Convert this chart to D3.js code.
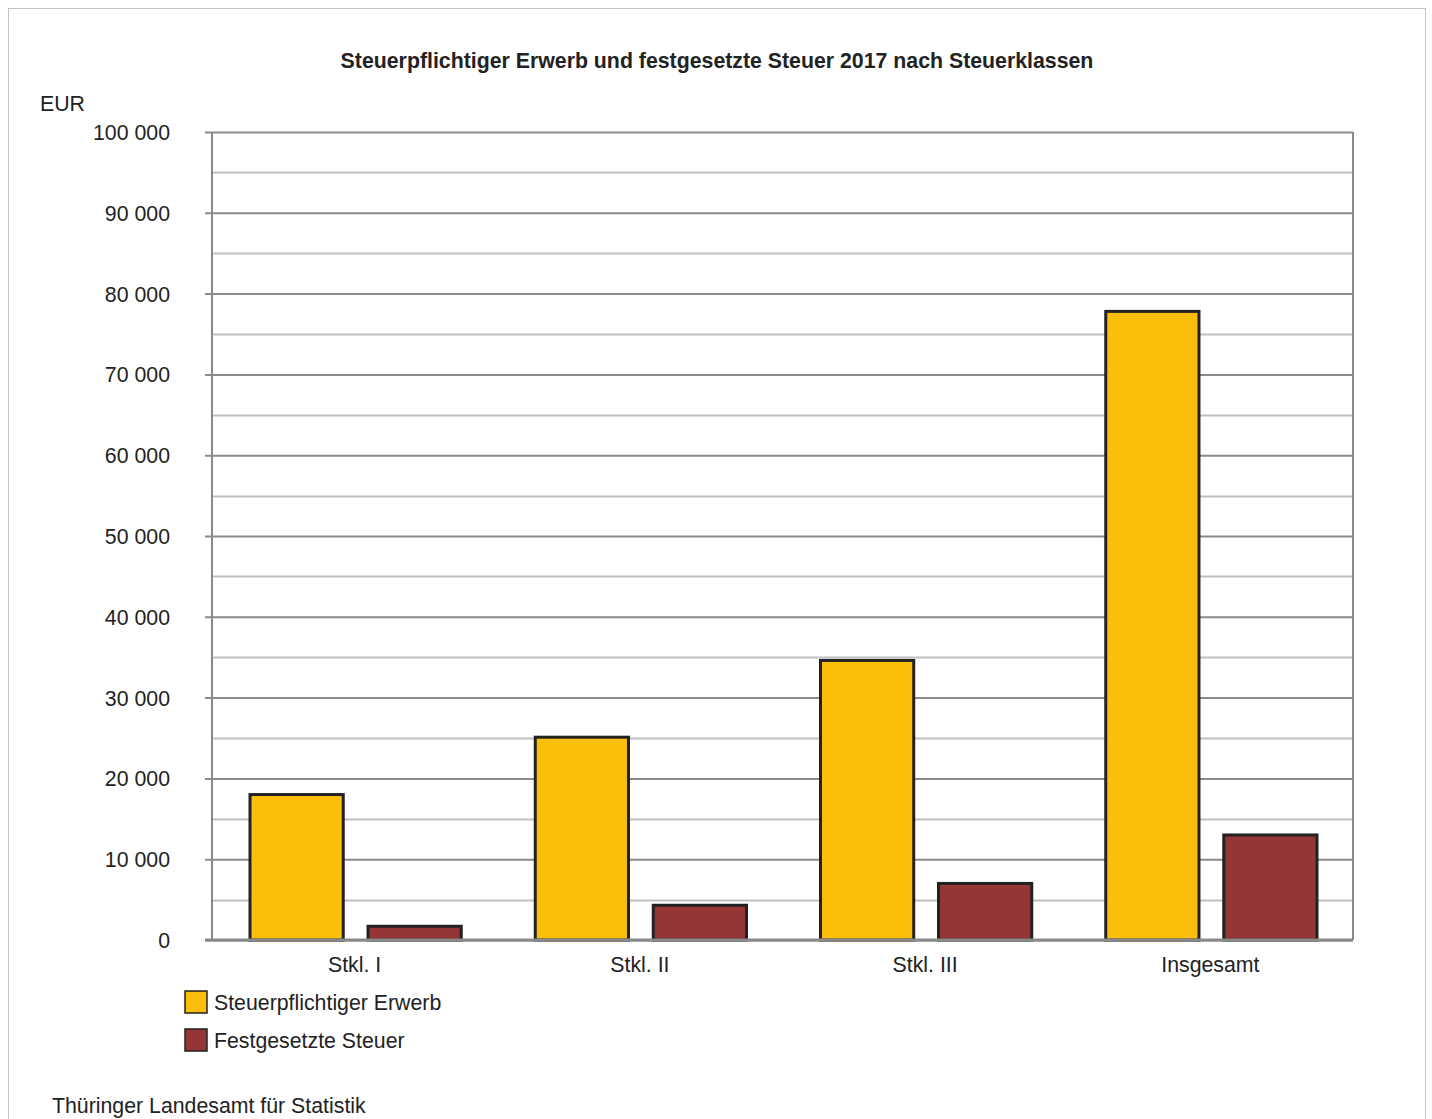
<!DOCTYPE html>
<html>
<head>
<meta charset="utf-8">
<script src="https://cdn.jsdelivr.net/npm/d3@7"></script>
<style>
	body { margin: 0; background: #fff; }
	text { font-family: "Liberation Sans", Arial, sans-serif; fill: #222; }
</style>
</head>
<body>
<script>
var categories = ['Stkl. I', 'Stkl. II', 'Stkl. III', 'Insgesamt'];
var seriesNames = ['Steuerpflichtiger Erwerb', 'Festgesetzte Steuer'];
var erwerb = [18000, 25100, 34600, 77800];
var steuer = [1700, 4300, 7000, 13000];
var yTicks = [0, 10000, 20000, 30000, 40000, 50000, 60000, 70000, 80000, 90000, 100000];
var colors = ['#fbbf0b', '#953535'];

var w = 1432, h = 1119;
var plotLeft = 212, plotRight = 1353, plotTop = 132, plotBottom = 940;
var fs = '21.3px';

var svg = d3.select('body')
	.append('svg')
	.attr('width', w)
	.attr('height', h);

// outer frame
svg.append('rect')
	.attr('x', 8.5).attr('y', 8.5)
	.attr('width', 1417).attr('height', 1130)
	.attr('fill', 'none')
	.attr('stroke', '#c4c4c4');

svg.append('text')
	.attr('x', 717).attr('y', 68)
	.attr('text-anchor', 'middle')
	.style('font-size', fs)
	.style('font-weight', 'bold')
	.text('Steuerpflichtiger Erwerb und festgesetzte Steuer 2017 nach Steuerklassen');

svg.append('text')
	.attr('x', 40).attr('y', 111)
	.style('font-size', fs)
	.text('EUR');

var y = d3.scaleLinear().domain([0, 100000]).range([plotBottom, plotTop]);
var x = d3.scaleBand().domain(categories).range([plotLeft, plotRight]).paddingInner(0).paddingOuter(0);
var inner = d3.scaleBand().domain(seriesNames).range([38, x.bandwidth() - 36]).paddingInner(0.21);

var g = svg.append('g');

// minor gridlines
var minor = d3.range(5000, 100000, 10000);
g.selectAll('line.minor')
	.data(minor)
	.enter()
	.append('line')
	.attr('x1', plotLeft).attr('x2', plotRight)
	.attr('y1', function(d){ return Math.round(y(d)) + 0.5; })
	.attr('y2', function(d){ return Math.round(y(d)) + 0.5; })
	.attr('stroke', '#c0c0c0')
	.attr('stroke-width', 2);

// major gridlines + y axis
var yAxis = d3.axisLeft(y)
	.tickValues(yTicks)
	.tickSize(-(plotRight - plotLeft))
	.tickPadding(0)
	.tickFormat(function(d){ return d3.format(',')(d).replace(/,/g, ' '); });

var ax = svg.append('g')
	.attr('transform', 'translate(' + plotLeft + ',0)')
	.call(yAxis);
ax.select('.domain').remove();
ax.selectAll('.tick line')
	.attr('x1', -7)
	.attr('stroke', '#8a8a8a')
	.attr('stroke-width', 2);
ax.selectAll('.tick text')
	.attr('x', -42)
	.attr('dy', '0.35em')
	.style('font-size', fs)
	.style('font-family', '"Liberation Sans", Arial, sans-serif')
	.attr('fill', '#222');

// frame of plot
svg.append('line')
	.attr('x1', plotLeft).attr('x2', plotLeft).attr('y1', plotTop).attr('y2', plotBottom)
	.attr('stroke', '#8a8a8a').attr('stroke-width', 2);
svg.append('line')
	.attr('x1', plotRight).attr('x2', plotRight).attr('y1', plotTop).attr('y2', plotBottom)
	.attr('stroke', '#8a8a8a').attr('stroke-width', 2);

// bars
var rows = categories.map(function(c, i){
	return [
		{cat: c, name: seriesNames[0], value: erwerb[i]},
		{cat: c, name: seriesNames[1], value: steuer[i]}
	];
});

var groups = svg.selectAll('g.grp')
	.data(rows)
	.enter()
	.append('g')
	.attr('transform', function(d){ return 'translate(' + x(d[0].cat) + ',0)'; });

groups.selectAll('rect')
	.data(function(d){ return d; })
	.enter()
	.append('rect')
	.attr('x', function(d){ return inner(d.name); })
	.attr('y', function(d){ return y(d.value); })
	.attr('width', inner.bandwidth())
	.attr('height', function(d){ return plotBottom - y(d.value); })
	.attr('fill', function(d, i){ return colors[i]; })
	.attr('stroke', '#222')
	.attr('stroke-width', 3);

// x axis line
svg.append('line')
	.attr('x1', plotLeft - 7).attr('x2', plotRight).attr('y1', plotBottom).attr('y2', plotBottom)
	.attr('stroke', '#8a8a8a').attr('stroke-width', 3);

var xAxis = d3.axisBottom(x).tickSize(0).tickPadding(0);
var xa = svg.append('g')
	.attr('transform', 'translate(0,' + plotBottom + ')')
	.call(xAxis);
xa.select('.domain').remove();
xa.selectAll('.tick text')
	.attr('y', 32)
	.attr('dy', 0)
	.style('font-size', fs)
	.style('font-family', '"Liberation Sans", Arial, sans-serif')
	.attr('fill', '#222');

// legend
var legend = svg.selectAll('g.legend')
	.data(seriesNames)
	.enter()
	.append('g')
	.attr('transform', function(d, i){ return 'translate(185,' + (991 + i * 38) + ')'; });
legend.append('rect')
	.attr('width', 22).attr('height', 22)
	.attr('fill', function(d, i){ return colors[i]; })
	.attr('stroke', '#222')
	.attr('stroke-width', 1.5);
legend.append('text')
	.attr('x', 29).attr('y', 19)
	.style('font-size', fs)
	.text(function(d){ return d; });

svg.append('text')
	.attr('x', 52).attr('y', 1113)
	.style('font-size', fs)
	.text('Thüringer Landesamt für Statistik');
</script>
</body>
</html>
